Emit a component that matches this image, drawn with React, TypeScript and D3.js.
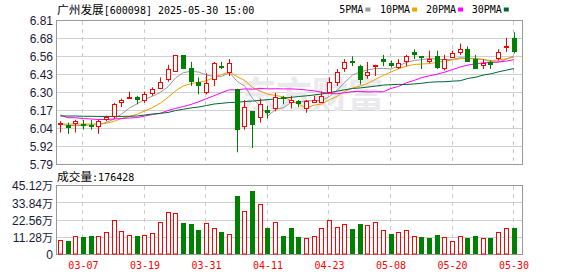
import React from "react";
import * as d3 from "d3";

const dates = ["03-04","03-05","03-06","03-07","03-10","03-11","03-12","03-13","03-14","03-17","03-18","03-19","03-20","03-21","03-24","03-25","03-26","03-27","03-28","03-31","04-01","04-02","04-03","04-07","04-08","04-09","04-10","04-11","04-14","04-15","04-16","04-17","04-18","04-21","04-22","04-23","04-24","04-25","04-28","04-29","04-30","05-06","05-07","05-08","05-09","05-12","05-13","05-14","05-15","05-16","05-19","05-20","05-21","05-22","05-23","05-26","05-27","05-28","05-29","05-30"];
const opens = [6.08,6.07,6.08,6.08,6.07,6.06,6.11,6.13,6.23,6.26,6.27,6.24,6.29,6.33,6.39,6.45,6.57,6.48,6.38,6.30,6.39,6.49,6.44,6.33,6.06,6.17,6.12,6.18,6.19,6.27,6.23,6.24,6.19,6.23,6.23,6.30,6.37,6.47,6.53,6.49,6.42,6.49,6.54,6.51,6.48,6.52,6.59,6.56,6.52,6.56,6.47,6.55,6.58,6.61,6.54,6.49,6.52,6.54,6.62,6.69];
const highs = [6.10,6.09,6.11,6.11,6.11,6.11,6.14,6.23,6.26,6.31,6.28,6.31,6.34,6.41,6.50,6.57,6.57,6.52,6.41,6.44,6.52,6.52,6.54,6.33,6.25,6.17,6.26,6.21,6.30,6.28,6.28,6.25,6.25,6.28,6.31,6.41,6.47,6.54,6.56,6.50,6.52,6.50,6.57,6.53,6.54,6.57,6.61,6.56,6.60,6.60,6.57,6.60,6.65,6.63,6.57,6.54,6.53,6.61,6.69,6.73];
const lows = [6.02,6.01,6.02,6.04,6.04,6.01,6.10,6.12,6.20,6.26,6.22,6.23,6.28,6.33,6.38,6.45,6.47,6.35,6.29,6.29,6.35,6.47,6.42,5.88,6.04,5.91,6.09,6.12,6.17,6.22,6.19,6.20,6.16,6.23,6.23,6.30,6.35,6.45,6.49,6.36,6.40,6.42,6.49,6.48,6.47,6.49,6.54,6.47,6.51,6.47,6.46,6.55,6.57,6.52,6.47,6.47,6.47,6.53,6.59,6.58];
const closes = [6.09,6.05,6.10,6.07,6.06,6.10,6.13,6.22,6.25,6.27,6.25,6.29,6.33,6.38,6.47,6.57,6.47,6.38,6.35,6.37,6.51,6.48,6.51,6.04,6.20,6.07,6.22,6.16,6.27,6.26,6.25,6.22,6.24,6.25,6.28,6.38,6.45,6.52,6.51,6.39,6.45,6.50,6.52,6.49,6.51,6.56,6.57,6.55,6.54,6.48,6.54,6.58,6.61,6.52,6.47,6.51,6.50,6.59,6.63,6.59];
const volumes = [9.8,9.15,12.4,12.0,12.6,12.4,15.0,22.9,15.7,13.1,12.6,13.1,14.4,21.8,28.1,27.5,21.1,20.5,16.4,20.7,17.4,15.0,13.5,38.6,28.8,41.8,33.1,17.7,21.4,12.4,17.7,12.0,11.1,12.4,17.4,22.9,18.3,20.1,17.0,20.1,19.6,21.4,16.3,13.7,14.8,16.1,12.4,11.8,11.1,13.1,11.8,9.15,12.4,11.1,12.4,11.1,11.1,14.8,17.7,17.64];
const ma5 = [6.08,6.07,6.07,6.07,6.074,6.076,6.092,6.116,6.152,6.194,6.224,6.256,6.278,6.304,6.344,6.408,6.444,6.454,6.448,6.428,6.416,6.418,6.444,6.382,6.348,6.26,6.208,6.138,6.184,6.196,6.232,6.232,6.248,6.244,6.248,6.274,6.32,6.376,6.428,6.45,6.464,6.474,6.474,6.47,6.494,6.516,6.53,6.536,6.546,6.54,6.536,6.538,6.55,6.546,6.544,6.538,6.522,6.518,6.54,6.564];
const ma10 = [6.08,6.08,6.08,6.08,6.08,6.08,6.085,6.10,6.12,6.134,6.15,6.174,6.197,6.228,6.269,6.316,6.35,6.366,6.376,6.386,6.412,6.431,6.449,6.415,6.388,6.338,6.313,6.291,6.283,6.272,6.246,6.22,6.193,6.214,6.222,6.253,6.276,6.312,6.336,6.349,6.369,6.397,6.425,6.449,6.472,6.49,6.502,6.505,6.508,6.517,6.526,6.534,6.543,6.546,6.542,6.537,6.53,6.534,6.543,6.554];
const ma20 = [6.144,6.125,6.125,6.119,6.116,6.112,6.112,6.116,6.119,6.123,6.126,6.137,6.148,6.156,6.176,6.191,6.204,6.219,6.238,6.26,6.281,6.303,6.323,6.322,6.329,6.327,6.332,6.329,6.33,6.329,6.329,6.326,6.321,6.315,6.305,6.296,6.295,6.302,6.31,6.311,6.308,6.309,6.309,6.332,6.347,6.372,6.389,6.409,6.422,6.433,6.448,6.466,6.484,6.498,6.507,6.514,6.516,6.52,6.526,6.536];
const ma30 = [6.137,6.137,6.137,6.135,6.135,6.134,6.134,6.134,6.134,6.135,6.137,6.144,6.151,6.156,6.162,6.176,6.185,6.194,6.201,6.211,6.222,6.227,6.233,6.234,6.24,6.243,6.248,6.253,6.258,6.264,6.269,6.275,6.28,6.286,6.293,6.302,6.313,6.323,6.332,6.336,6.342,6.349,6.356,6.359,6.361,6.36,6.364,6.369,6.376,6.379,6.38,6.384,6.387,6.403,6.412,6.427,6.436,6.45,6.462,6.473];
const priceTicks = ["6.81","6.68","6.56","6.43","6.30","6.17","6.04","5.92","5.79"];
const volTicks = ["45.12万","33.84万","22.56万","11.28万","0"];
const labeledDates = ["03-07","03-19","03-31","04-11","04-23","05-08","05-20","05-30"];
const maNames = ["5PMA","10PMA","20PMA","30PMA"];
const maColors = ["#999999","#f0a000","#ff00ff","#006633"];
const lastVolume = "176428";

const RED = "#ff0000";
const GREEN = "#008000";

export default function App() {
  const W = 578, H = 276;
  const L = 56, R = 522;
  const pTop = 21, pBot = 165, vTop = 186, vBot = 255;
  const x = d3.scaleBand<string>().domain(dates).range([56.5, 517.9]).padding(0);
  const cx = (d: string) => (x(d) as number) + x.bandwidth() / 2;
  const yP = d3.scaleLinear().domain([5.79, 6.81]).range([pBot, pTop]);
  const yV = d3.scaleLinear().domain([0, 45.12]).range([vBot, vTop]);
  const vStep = (vBot - vTop) / (volTicks.length - 1);
  const pStep = (pBot - pTop) / (priceTicks.length - 1);
  const crisp = (v: number) => Math.round(v) + 0.5;
  const mono = "'DejaVu Sans Mono', 'Liberation Mono', monospace";
  const cjk = "'Noto Sans CJK SC', sans-serif";
  const maSeries = [ma5, ma10, ma20, ma30];
  const line = (arr: number[]) =>
    d3.line<number>().x((_, i) => cx(dates[i])).y((v) => yP(v))(arr) as string;

  return (
    <svg width={W} height={H} style={{ position: "absolute", left: 0, top: 0, background: "#fff" }}>
      <rect x={0} y={0} width={W} height={H} fill="#fff" />
      {/* title */}
      <text x={57} y={14} fontSize={12} fill="#000">
        <tspan fontFamily={cjk} fontSize={11.7}>广州发展</tspan>
        <tspan fontFamily={mono} fontSize={10}>[600098] 2025-05-30 15:00</tspan>
      </text>
      {/* legend */}
      {(() => {
        const starts = [339.3, 380, 426, 471.7];
        return maNames.map((n, i) => (
          <g key={n}>
            <text x={starts[i]} y={13} fontFamily={mono} fontSize={10} fill="#000">{n}</text>
            <rect x={starts[i] + n.length * 6.02 + 2} y={7.5} width={5} height={4} fill={maColors[i]} />
          </g>
        ));
      })()}
      {/* price grid */}
      {priceTicks.map((t, i) => {
        const y = crisp(pTop + i * pStep) - 1;
        return (
          <g key={t}>
            {i > 0 && i < priceTicks.length - 1 && (
              <line x1={L} x2={R} y1={y} y2={y} stroke="#d0d0d0" strokeWidth={1} />
            )}
            <text x={53} y={pTop + i * pStep} dy="0.36em" textAnchor="end" fontFamily="'Liberation Sans', Arial, sans-serif" fontSize={12} fill="#1a1a3a">{t}</text>
          </g>
        );
      })}
      {/* volume grid */}
      {volTicks.map((t, i) => {
        const y = crisp(vTop + i * vStep) - 1;
        return (
          <g key={t}>
            {i > 0 && i < volTicks.length - 1 && (
              <line x1={L} x2={R} y1={y} y2={y} stroke="#d0d0d0" strokeWidth={1} />
            )}
            <text x={53} y={vTop + i * vStep} dy="0.36em" textAnchor="end" fontFamily="'Liberation Sans', Arial, sans-serif" fontSize={12} fill="#1a1a3a">
              {t.replace("万", "")}
              {t.includes("万") && <tspan fontFamily={cjk} fontSize={11}>万</tspan>}
            </text>
          </g>
        );
      })}
      {/* vertical dashed grid + date labels */}
      {labeledDates.map((d) => {
        const xx = crisp(cx(d)) - 1;
        return (
          <g key={d}>
            <line x1={xx} x2={xx} y1={pTop} y2={pBot} stroke="#cccccc" strokeDasharray="4,4" />
            <line x1={xx} x2={xx} y1={vTop} y2={vBot} stroke="#cccccc" strokeDasharray="4,4" />
            <text x={cx(d)} y={269} textAnchor="middle" fontFamily={mono} fontSize={10} fill={RED}>{d}</text>
          </g>
        );
      })}
      {/* watermark */}
      <text x={240} y={108} fontFamily={cjk} fontSize={36} fontWeight="bold" fill="#e9e9ee">东方财富</text>
      {/* frames */}
      <rect x={L + 0.5} y={pTop - 0.5} width={R - L} height={pBot - pTop} fill="none" stroke="#999" />
      <rect x={L + 0.5} y={vTop - 0.5} width={R - L} height={vBot - vTop} fill="none" stroke="#999" />
      {/* MA lines */}
      {maSeries.map((arr, i) => (
        <path key={i} d={line(arr)} fill="none" stroke={maColors[i]} strokeWidth={1} />
      ))}
      {/* candles */}
      {dates.map((d, i) => {
        const o = opens[i], c = closes[i], h = highs[i], l = lows[i];
        const up = c >= o;
        const x0 = Math.round(cx(d) - 2.5);
        const wx = x0 + 2.5;
        const top = Math.round(yP(Math.max(o, c)));
        const bot = Math.round(yP(Math.min(o, c)));
        const hgt = Math.max(bot - top, 1);
        if (up) {
          return (
            <g key={d}>
              <line x1={wx} x2={wx} y1={yP(h)} y2={yP(l)} stroke={RED} />
              {hgt > 2 ? (
                <rect x={x0 + 0.5} y={top + 0.5} width={4} height={hgt - 1} fill="#fff" stroke={RED} />
              ) : (
                <rect x={x0} y={top} width={5} height={Math.max(hgt, 2)} fill={RED} />
              )}
            </g>
          );
        }
        return (
          <g key={d}>
            <line x1={wx} x2={wx} y1={yP(h)} y2={yP(l)} stroke={GREEN} />
            <rect x={x0} y={top} width={5} height={Math.max(hgt, 2)} fill={GREEN} />
          </g>
        );
      })}
      {/* volume bars */}
      {dates.map((d, i) => {
        const up = i === 0 ? closes[i] >= opens[i] : closes[i] >= closes[i - 1];
        const x0 = Math.round(cx(d) - 2.5);
        const top = Math.round(yV(volumes[i]));
        if (up) {
          return <rect key={d} x={x0 + 0.5} y={top + 0.5} width={4} height={vBot - top - 1.5} fill="#fff" stroke={RED} />;
        }
        return <rect key={d} x={x0} y={top} width={5} height={vBot - top - 1} fill={GREEN} />;
      })}
      {/* volume title */}
      <text x={57} y={181} fill="#000">
        <tspan fontFamily={cjk} fontSize={11.7}>成交量</tspan>
        <tspan fontFamily={mono} fontSize={10}>:{lastVolume}</tspan>
      </text>
    </svg>
  );
}
